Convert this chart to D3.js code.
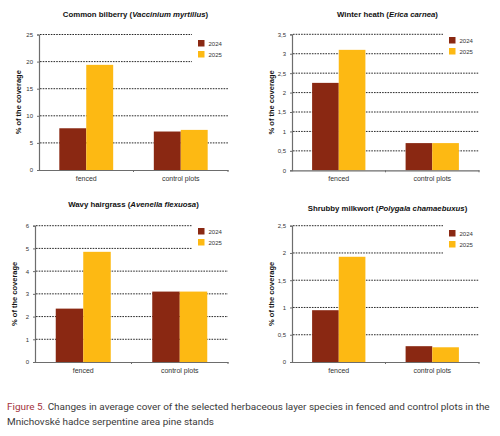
<!DOCTYPE html>
<html>
<head>
<meta charset="utf-8">
<script src="https://cdn.jsdelivr.net/npm/d3@7"></script>
<style>
  body { margin: 0; background: #fff; }
  svg { display: block; }
</style>
</head>
<body>
<svg id="chart" width="500" height="436"></svg>
<script>
// data
var categories = ["fenced", "control plots"];
var years = ["2024", "2025"];

var bilberry2024 = [7.7, 7.1];
var bilberry2025 = [19.4, 7.4];
var bilberryTicks = [0, 5, 10, 15, 20, 25];

var heath2024 = [2.25, 0.7];
var heath2025 = [3.1, 0.7];
var heathTicks = [0, 0.5, 1, 1.5, 2, 2.5, 3, 3.5];

var hairgrass2024 = [2.35, 3.1];
var hairgrass2025 = [4.85, 3.1];
var hairgrassTicks = [0, 1, 2, 3, 4, 5, 6];

var milkwort2024 = [0.95, 0.29];
var milkwort2025 = [1.93, 0.27];
var milkwortTicks = [0, 0.5, 1, 1.5, 2, 2.5];

var colors = { "2024": "#8a2812", "2025": "#fdb913" };
var axisColor = "#6d6d6d";
var font = "'Liberation Sans Narrow', 'Liberation Sans', Arial, sans-serif";

var svg = d3.select("#chart");

var panels = [
  { name: "Common bilberry", latin: "Vaccinium myrtillus", a: bilberry2024, b: bilberry2025, ticks: bilberryTicks,
    x0: 39, x1: 228, yTop: 34.5, y0: 170, titleY: 17, labY: 181, legY: 40 },
  { name: "Winter heath", latin: "Erica carnea", a: heath2024, b: heath2025, ticks: heathTicks,
    x0: 292, x1: 479, yTop: 34.3, y0: 170.3, titleY: 17, labY: 181, legY: 37 },
  { name: "Wavy hairgrass", latin: "Avenella flexuosa", a: hairgrass2024, b: hairgrass2025, ticks: hairgrassTicks,
    x0: 35, x1: 228, yTop: 225.7, y0: 362, titleY: 207, labY: 374, legY: 228 },
  { name: "Shrubby milkwort", latin: "Polygala chamaebuxus", a: milkwort2024, b: milkwort2025, ticks: milkwortTicks,
    x0: 292, x1: 479, yTop: 225.7, y0: 362, titleY: 211, labY: 374, legY: 230 }
];

var fmt = function (d) { return String(d).replace(".", ","); };

panels.forEach(function (p) {
  var g = svg.append("g");

  var x = d3.scaleBand().domain(categories).range([p.x0, p.x1]).padding(0);
  var groupW = x.bandwidth() * 0.57;
  var xi = d3.scaleBand().domain(years).range([0, groupW]).padding(0);
  var y = d3.scaleLinear()
    .domain([0, d3.max(p.ticks)])
    .range([p.y0, p.yTop]);

  // dotted grid lines, the top two stop short of the legend
  var top = p.ticks.slice(-2);
  g.selectAll(".grid")
    .data(p.ticks.filter(function (t) { return t > 0; }))
    .enter().append("line")
    .attr("x1", p.x0 + 1)
    .attr("x2", function (d) { return top.indexOf(d) >= 0 ? p.x1 - 36 : p.x1; })
    .attr("y1", function (d) { return y(d); })
    .attr("y2", function (d) { return y(d); })
    .attr("stroke", "#111")
    .attr("stroke-width", 0.9)
    .attr("stroke-dasharray", "1.6,1.1");

  // bars
  var rows = categories.map(function (c, i) {
    return { cat: c, vals: [{ year: "2024", v: p.a[i] }, { year: "2025", v: p.b[i] }] };
  });
  var grp = g.selectAll(".grp")
    .data(rows)
    .enter().append("g")
    .attr("transform", function (d) {
      return "translate(" + (x(d.cat) + (x.bandwidth() - groupW) / 2) + ",0)";
    });
  grp.selectAll("rect")
    .data(function (d) { return d.vals; })
    .enter().append("rect")
    .attr("x", function (d) { return xi(d.year); })
    .attr("width", xi.bandwidth())
    .attr("y", function (d) { return y(d.v); })
    .attr("height", function (d) { return p.y0 - y(d.v); })
    .attr("fill", function (d) { return colors[d.year]; });

  // y axis
  var ya = g.append("g")
    .attr("transform", "translate(" + p.x0 + ",0)")
    .call(d3.axisLeft(y).tickValues(p.ticks).tickFormat(fmt).tickSize(2).tickPadding(4));
  ya.select(".domain").attr("stroke", axisColor).attr("stroke-width", 1.2);
  ya.selectAll(".tick line").attr("stroke", axisColor);
  ya.selectAll("text").attr("font-family", font).attr("font-size", 6).attr("fill", "#333");

  // x axis
  var xa = g.append("g")
    .attr("transform", "translate(0," + p.y0 + ")")
    .call(d3.axisBottom(x).tickSize(0).tickPadding(6));
  xa.select(".domain").attr("stroke", axisColor).attr("stroke-width", 1.2);
  xa.selectAll("text").attr("font-family", font).attr("font-size", 7).attr("fill", "#333");
  g.selectAll(".xt")
    .data([x.range()[0] + x.step(), x.range()[1]])
    .enter().append("line")
    .attr("x1", function (d) { return d; })
    .attr("x2", function (d) { return d; })
    .attr("y1", p.y0)
    .attr("y2", p.y0 + 2)
    .attr("stroke", axisColor);

  // title
  var t = g.append("text")
    .attr("x", (p.x0 + p.x1) / 2 + 2)
    .attr("y", p.titleY)
    .attr("text-anchor", "middle")
    .attr("font-family", font)
    .attr("font-size", 7.8)
    .attr("font-weight", "bold")
    .attr("fill", "#111");
  t.append("tspan").text(p.name + " (");
  t.append("tspan").attr("font-style", "italic").text(p.latin);
  t.append("tspan").text(")");

  // y label
  g.append("text")
    .attr("transform", "translate(" + (p.x0 - 18) + "," + ((p.y0 + p.yTop) / 2) + ") rotate(-90)")
    .attr("text-anchor", "middle")
    .attr("font-family", font)
    .attr("font-size", 7.5)
    .attr("font-weight", "bold")
    .attr("fill", "#111")
    .text("% of the coverage");

  // legend
  var leg = g.selectAll(".leg")
    .data(years)
    .enter().append("g")
    .attr("transform", function (d, i) { return "translate(" + (p.x1 - 30) + "," + (p.legY + i * 11) + ")"; });
  leg.append("rect").attr("width", 6.5).attr("height", 6.5)
    .attr("fill", function (d) { return colors[d]; });
  leg.append("text").attr("x", 10.5).attr("y", 5.5)
    .attr("font-family", font).attr("font-size", 6).attr("fill", "#333")
    .text(function (d) { return d; });
});

// caption
var cap = svg.append("text")
  .attr("x", 7)
  .attr("y", 410)
  .attr("font-family", "Roboto, sans-serif")
  .attr("font-size", 9.95)
  .attr("fill", "#3a3a3a");
cap.append("tspan").attr("fill", "#a3323c").text("Figure 5.");
cap.append("tspan").text(" Changes in average cover of the selected herbaceous layer species in fenced and control plots in the");
svg.append("text")
  .attr("x", 7)
  .attr("y", 424.5)
  .attr("font-family", "Roboto, sans-serif")
  .attr("font-size", 9.95)
  .attr("fill", "#3a3a3a")
  .text("Mnichovské hadce serpentine area pine stands");
</script>
</body>
</html>
